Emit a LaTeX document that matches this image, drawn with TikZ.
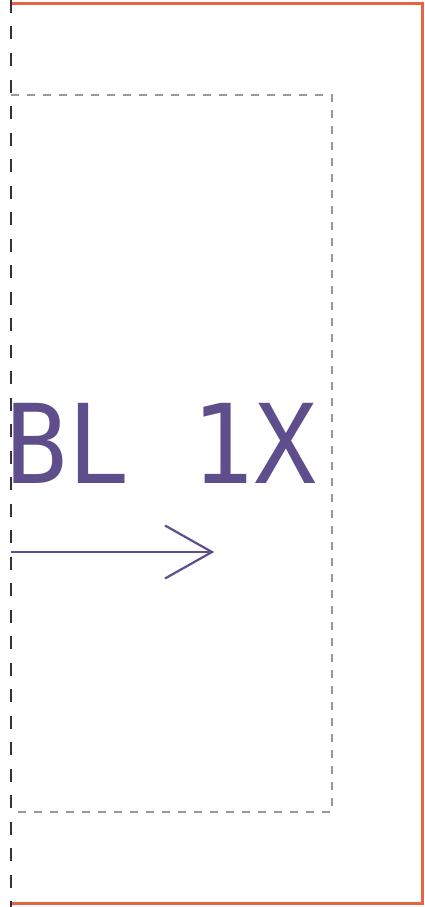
\documentclass[tikz,border=0pt]{standalone}
\usepackage{fontspec}
\newfontfamily\labelmono[FakeStretch=0.94]{DejaVu Sans Mono}
\definecolor{frameorange}{HTML}{EA6340}
\definecolor{labelpurple}{HTML}{5E4F8C}
\definecolor{boxgray}{HTML}{999999}
\definecolor{guidegray}{HTML}{333333}
\tikzset{
  outerframe/.style={draw=frameorange, line width=3pt},
  innerbox/.style={draw=boxgray, line width=2pt, dash pattern=on 8pt off 8pt},
  guideline/.style={draw=guidegray, line width=1.2pt, dash pattern=on 13pt off 13.5pt},
  biglabel/.style={text=labelpurple, inner sep=0pt, anchor=base west, font=\labelmono\fontsize{110}{110}\selectfont},
  flowarrow/.style={draw=labelpurple, line width=2.2pt}
}
\begin{document}
\begin{tikzpicture}[x=1pt, y=-1pt]
\useasboundingbox (0,0) rectangle (424,907);
% outer frame (top, right, bottom)
\coordinate (ftl) at (11,3.5);
\coordinate (ftr) at (422,3.5);
\coordinate (fbr) at (422,903);
\coordinate (fbl) at (11,903);
\draw[outerframe] (ftl) -- (ftr) -- (fbr) -- (fbl);
% inner dashed box
\coordinate (btl) at (11,94.5);
\coordinate (btr) at (331.5,94.5);
\coordinate (bbr) at (331.5,812);
\coordinate (bbl) at (11,812);
\draw[innerbox] (btl) -- (btr) -- (bbr) -- (bbl);
% label
\node[biglabel] (lbl) at (5,483) {BL 1X};
% arrow
\coordinate (astart) at (11,552);
\coordinate (atip) at (212,552);
\coordinate (aup) at (165,525.5);
\coordinate (adown) at (165,578.5);
\draw[flowarrow] (astart) -- (atip);
\draw[flowarrow, line join=miter] (aup) -- (atip) -- (adown);
% vertical guide
\coordinate (gtop) at (11,0);
\coordinate (gbot) at (11,907);
\draw[guideline] (gtop) -- (gbot);
\end{tikzpicture}
\end{document}
